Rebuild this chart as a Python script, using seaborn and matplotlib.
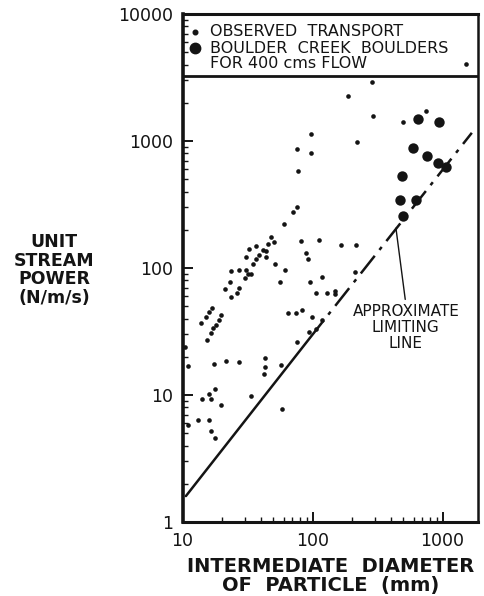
import matplotlib
matplotlib.use("Agg")
import matplotlib.pyplot as plt
import numpy as np
import pandas as pd
import seaborn as sns
from matplotlib.ticker import FixedLocator, FixedFormatter, LogLocator, NullFormatter

# ---- data ----
obs_diameter = [1514, 286, 187, 292, 745, 496, 220, 97, 76, 97, 77,
                76, 70.6, 60.3, 48.3, 50.5, 45.8, 41.5, 44.2, 43.8, 36.7, 32.4,
                38.4, 30.7, 37.0, 34.8, 51.4, 61.4, 81.4, 112, 165, 216, 89, 92,
                212, 23.6, 27.4, 30.7, 31.9, 33.3, 56.1, 23.2, 30.2, 21.2, 27.2,
                26.0, 23.6, 95.5, 119, 106, 129, 149, 149, 64.7, 74.5, 83.6,
                99.5, 119, 94.6, 107, 75.5, 16.7, 16.1, 15.1, 13.9, 19.9, 19.1,
                18.2, 17.1, 16.5, 15.3, 10.4, 11.0, 17.5, 21.6, 27.2, 43.0, 43.4,
                42.3, 57.1, 17.7, 16.1, 16.4, 14.2, 19.6, 33.3, 58.2, 11.1, 13.2,
                16.0, 16.6, 17.6]
obs_power = [4040, 2915, 2262, 1574, 1722, 1412, 982, 1135, 865, 805, 580,
             302, 276, 222, 175, 160, 154, 139, 136, 121, 149, 140,
             127, 121, 117, 108, 108, 96, 163, 166, 152, 152, 131, 118,
             93, 95, 97, 97, 90.5, 89.7, 77, 78, 83, 68.7, 69.6,
             63.9, 59.1, 77.6, 84.5, 63.6, 63.6, 66.5, 62.4, 44, 44, 47.1,
             41.1, 38.9, 31.5, 33.1, 26.3, 48.2, 45.3, 41.1, 36.9, 42.3, 38.9,
             35.9, 33.5, 30.6, 26.9, 23.9, 16.9, 17.4, 18.6, 18.3, 19.5, 16.7,
             14.6, 17.3, 11.2, 10.1, 9.3, 9.3, 8.3, 9.9, 7.7, 5.8, 6.3,
             6.3, 5.2, 4.6]

boulder_diameter = [647, 938, 592, 759, 922, 1062, 487, 470, 624, 496]
boulder_power = [1490, 1412, 881, 762, 671, 624, 530, 343, 343, 257]

limit_solid_diameter = [10.6, 95]
limit_solid_power = [1.6, 28]
limit_dash_diameter = [95, 1680]
limit_dash_power = [28, 1160]

legend_line_power = 3250

y_ticks = [1, 10, 100, 1000, 10000]
y_tick_labels = ["1", "10", "100", "1000", "10000"]
x_ticks = [10, 100, 1000]
x_tick_labels = ["10", "100", "1000"]

legend_labels = ["OBSERVED  TRANSPORT", "BOULDER  CREEK  BOULDERS", "FOR 400 cms FLOW"]
x_label = "INTERMEDIATE  DIAMETER\nOF  PARTICLE  (mm)"
y_label = "UNIT\nSTREAM\nPOWER\n(N/m/s)"
note_label = "APPROXIMATE\nLIMITING\nLINE"
note_xy = (438, 206)
note_text_xy = (522, 52)

INK = "#141414"

obs_df = pd.DataFrame({"d": obs_diameter, "p": obs_power})
bould_df = pd.DataFrame({"d": boulder_diameter, "p": boulder_power})
lim1 = pd.DataFrame({"d": limit_solid_diameter, "p": limit_solid_power})
lim2 = pd.DataFrame({"d": limit_dash_diameter, "p": limit_dash_power})

sns.set_style("ticks")
plt.rcParams["font.family"] = ["DejaVu Sans"]

fig = plt.figure(figsize=(4.85, 5.96), dpi=100)
ax = fig.add_axes([182.6 / 485, 1 - 522 / 596, (478.3 - 182.6) / 485, (522 - 14) / 596])
ax.set_xscale("log")
ax.set_yscale("log")

sns.scatterplot(data=obs_df, x="d", y="p", ax=ax, s=11, color=INK,
                edgecolor=INK, linewidth=0, legend=False, zorder=3)
sns.scatterplot(data=bould_df, x="d", y="p", ax=ax, s=56, color=INK,
                edgecolor=INK, linewidth=0, legend=False, zorder=3)
sns.lineplot(data=lim1, x="d", y="p", ax=ax, color=INK, lw=1.8,
             estimator=None, sort=False, legend=False)
sns.lineplot(data=lim2, x="d", y="p", ax=ax, color=INK, lw=1.8,
             estimator=None, sort=False, legend=False,
             linestyle=(0, (9, 3, 1.5, 3)))

ax.set_xlim(10, 1884)
ax.set_ylim(1, 10000)

ax.axhline(legend_line_power, color=INK, lw=2)

# legend (manual, as in the original)
ax.scatter([0.042], [0.9646], s=11, color=INK, transform=ax.transAxes, clip_on=False)
ax.scatter([0.042], [0.933], s=56, color=INK, transform=ax.transAxes, clip_on=False)
for yy, lab in zip([0.9646, 0.933, 0.9026], legend_labels):
    ax.text(0.093, yy, lab, transform=ax.transAxes, fontsize=11.5,
            ha="left", va="center", color=INK)

ax.annotate(note_label, xy=note_xy, xytext=note_text_xy, textcoords="data",
            ha="center", va="top", fontsize=11, color=INK, linespacing=1.1,
            multialignment="center",
            arrowprops=dict(arrowstyle="-", color=INK, lw=1.0,
                            shrinkA=1, shrinkB=0, relpos=(0.5, 1.0)))

ax.yaxis.set_major_locator(FixedLocator(y_ticks))
ax.yaxis.set_major_formatter(FixedFormatter(y_tick_labels))
ax.yaxis.set_minor_locator(LogLocator(base=10, subs=np.arange(2, 10)))
ax.yaxis.set_minor_formatter(NullFormatter())
ax.xaxis.set_major_locator(FixedLocator(x_ticks))
ax.xaxis.set_major_formatter(FixedFormatter(x_tick_labels))
ax.xaxis.set_minor_locator(LogLocator(base=10, subs=np.arange(2, 10)))
ax.xaxis.set_minor_formatter(NullFormatter())

ax.tick_params(axis="both", which="major", direction="in", length=7, width=1.4,
               labelsize=12.5, colors=INK, pad=7)
ax.tick_params(axis="both", which="minor", direction="in", length=3.5, width=1.0,
               colors=INK)
ax.tick_params(top=False, right=False, which="both")

for side, w in [("left", 2.6), ("bottom", 2.2), ("right", 1.8), ("top", 2.2)]:
    ax.spines[side].set_visible(True)
    ax.spines[side].set_linewidth(w)
    ax.spines[side].set_color(INK)

ax.set_xlabel("")
ax.set_ylabel("")
fig.text(330.5 / 485, 1 - 576 / 596, x_label, ha="center", va="center",
         fontsize=14, fontweight="bold", color=INK, linespacing=1.05)
fig.text(54 / 485, 1 - 270 / 596, y_label, ha="center", va="center",
         fontsize=12.5, fontweight="bold", color=INK, linespacing=1.05)

fig.savefig("out.png", dpi=100, facecolor="white")
